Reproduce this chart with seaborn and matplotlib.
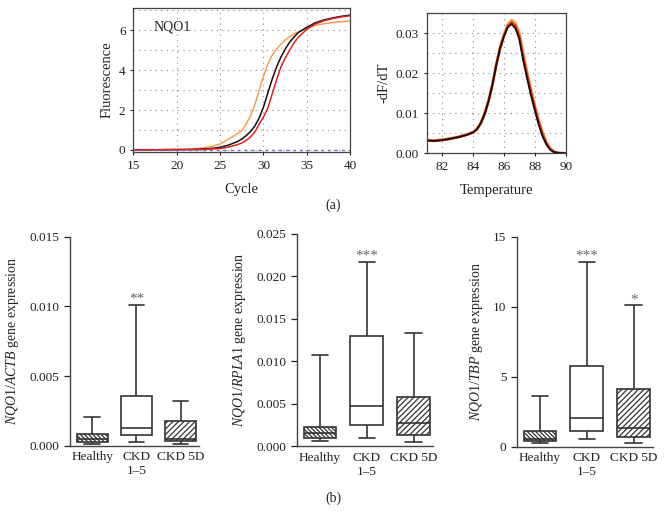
import numpy as np
import pandas as pd
import matplotlib
matplotlib.use("Agg")
import matplotlib.pyplot as plt
from matplotlib.ticker import FormatStrFormatter, MultipleLocator
import seaborn as sns

# ---------------- data ----------------
cycles = [15, 16, 17, 18, 19, 20, 21, 22, 23, 24, 25, 26, 27, 27.5, 28, 28.5, 29, 29.5,
          30, 30.5, 31, 31.5, 32, 32.5, 33, 33.5, 34, 35, 36, 37, 38, 39, 40]
amp_orange = [0.02, 0.02, 0.02, 0.02, 0.03, 0.03, 0.04, 0.06, 0.10, 0.18, 0.30, 0.55, 0.82, 0.97,
              1.30, 1.70, 2.25, 3.00, 3.70, 4.30, 4.75, 5.05, 5.30, 5.50, 5.68, 5.80, 5.92,
              6.12, 6.25, 6.33, 6.39, 6.43, 6.46]
amp_black = [0.01, 0.01, 0.01, 0.01, 0.02, 0.02, 0.02, 0.03, 0.05, 0.08, 0.13, 0.25, 0.42, 0.55,
             0.72, 0.92, 1.20, 1.60, 2.15, 2.85, 3.55, 4.15, 4.65, 5.05, 5.40, 5.65, 5.88,
             6.15, 6.38, 6.52, 6.62, 6.70, 6.76]
amp_red = [0.01, 0.01, 0.01, 0.01, 0.01, 0.02, 0.02, 0.02, 0.03, 0.05, 0.07, 0.15, 0.27, 0.35,
           0.47, 0.65, 0.90, 1.30, 1.65, 2.10, 2.80, 3.50, 4.15, 4.60, 5.00, 5.35, 5.65,
           6.05, 6.32, 6.48, 6.59, 6.67, 6.73]

temps = [81, 81.5, 82, 82.5, 83, 83.5, 84, 84.25, 84.5, 84.75, 85, 85.25, 85.5, 85.75, 86,
         86.25, 86.5, 86.75, 87, 87.25, 87.5, 87.75, 88, 88.25, 88.5, 88.75, 89, 89.25, 89.5, 90]
melt_black = [0.0032, 0.0031, 0.0033, 0.0036, 0.0040, 0.0045, 0.0052, 0.0060, 0.0075, 0.0098,
              0.0130, 0.0170, 0.0220, 0.0262, 0.0292, 0.0315, 0.0323, 0.0312, 0.0285, 0.0232,
              0.0188, 0.0145, 0.0108, 0.0072, 0.0043, 0.0022, 0.0009, 0.0003, 0.0001, 0.0000]
melt_red = [0.0032, 0.0031, 0.0033, 0.0036, 0.0040, 0.0045, 0.0052, 0.0060, 0.0075, 0.0098,
            0.0130, 0.0170, 0.0220, 0.0263, 0.0294, 0.0318, 0.0327, 0.0318, 0.0292, 0.0240,
            0.0195, 0.0152, 0.0114, 0.0077, 0.0047, 0.0025, 0.0010, 0.0003, 0.0001, 0.0000]
melt_orange = [0.0033, 0.0032, 0.0034, 0.0037, 0.0041, 0.0046, 0.0053, 0.0061, 0.0076, 0.0099,
               0.0131, 0.0171, 0.0221, 0.0265, 0.0296, 0.0322, 0.0333, 0.0325, 0.0300, 0.0250,
               0.0203, 0.0160, 0.0120, 0.0083, 0.0052, 0.0028, 0.0012, 0.0004, 0.0001, 0.0000]

groups = ["Healthy", "CKD\n1\u20135", "CKD 5D"]
# five-number summaries per group: [min, q1, median, q3, max]
actb_healthy = [0.00010, 0.00027, 0.00045, 0.00082, 0.00208]
actb_ckd = [0.00027, 0.00077, 0.00129, 0.00359, 0.01010]
actb_5d = [0.00012, 0.00036, 0.00045, 0.00180, 0.00323]
rpla_healthy = [0.00066, 0.00098, 0.00153, 0.00231, 0.01075]
rpla_ckd = [0.00094, 0.00247, 0.00475, 0.01303, 0.02174]
rpla_5d = [0.00047, 0.00130, 0.00271, 0.00584, 0.01338]
tbp_healthy = [0.30, 0.38, 0.55, 1.14, 3.62]
tbp_ckd = [0.53, 1.14, 2.07, 5.76, 13.20]
tbp_5d = [0.29, 0.71, 1.31, 4.10, 10.10]

# ---------------- style ----------------
sns.set_style("white")
plt.rcParams["font.family"] = ["Liberation Serif", "DejaVu Serif"]
plt.rcParams["mathtext.fontset"] = "custom"
plt.rcParams["mathtext.rm"] = "Liberation Serif"
plt.rcParams["mathtext.it"] = "Liberation Serif:italic"
plt.rcParams["hatch.linewidth"] = 0.9
plt.rcParams["hatch.color"] = "#333333"
TXT = "#222222"
SP = "#444444"

fig = plt.figure(figsize=(6.66, 5.25), dpi=100)

# ---------------- (a) amplification ----------------
ax1 = fig.add_axes([0.200, 0.7105, 0.326, 0.2737])
sns.lineplot(x=cycles, y=amp_orange, ax=ax1, color="#F5A050", lw=1.1)
sns.lineplot(x=cycles, y=amp_black, ax=ax1, color="#111111", lw=1.1)
sns.lineplot(x=cycles, y=amp_red, ax=ax1, color="#E82020", lw=1.1)
ax1.axhline(0, color="#6A6AD8", ls=(0, (2, 3)), lw=1.0)
ax1.set_xlim(15, 40)
ax1.set_ylim(-0.1, 7.1)
ax1.set_xticks([15, 20, 25, 30, 35, 40])
ax1.set_yticks([0, 2, 4, 6])
ax1.yaxis.set_minor_locator(MultipleLocator(1))
ax1.grid(True, which="both", axis="y", color="#888888", ls=(0, (1, 4)), lw=0.8)
ax1.grid(True, which="major", axis="x", color="#888888", ls=(0, (1, 4)), lw=0.8)
ax1.tick_params(which="minor", length=0)
ax1.set_xlabel("Cycle", fontsize=10.5, color=TXT, labelpad=8)
ax1.set_ylabel("Fluorescence", fontsize=10.5, color=TXT, labelpad=4)
ax1.text(17.3, 6.15, "NQO1", fontsize=10, va="center", ha="left", color=TXT)

# ---------------- (a) melt curve ----------------
ax2 = fig.add_axes([0.6407, 0.708, 0.2087, 0.2667])
sns.lineplot(x=temps, y=melt_orange, ax=ax2, color="#F5A050", lw=2.0)
sns.lineplot(x=temps, y=melt_red, ax=ax2, color="#E03010", lw=1.8)
sns.lineplot(x=temps, y=melt_black, ax=ax2, color="#1A0A0A", lw=1.3)
ax2.set_xlim(81, 90)
ax2.set_ylim(0, 0.035)
ax2.set_xticks([82, 84, 86, 88, 90])
ax2.set_yticks([0, 0.01, 0.02, 0.03])
ax2.yaxis.set_major_formatter(FormatStrFormatter("%.2f"))
ax2.yaxis.set_minor_locator(MultipleLocator(0.005))
ax2.grid(True, which="both", axis="y", color="#888888", ls=(0, (1, 4)), lw=0.8)
ax2.grid(True, which="major", axis="x", color="#888888", ls=(0, (1, 4)), lw=0.8)
ax2.tick_params(which="minor", length=0)
ax2.set_xlabel("Temperature", fontsize=10.5, color=TXT, labelpad=8)
ax2.set_ylabel("-dF/dT", fontsize=10.5, color=TXT, labelpad=4)

for ax in (ax1, ax2):
    for s in ax.spines.values():
        s.set_visible(True)
        s.set_color(SP)
        s.set_linewidth(0.9)
    ax.tick_params(which="major", labelsize=9.5, colors=TXT, length=2, width=0.8,
                   direction="out", bottom=True, left=True)

fig.text(0.5, 1 - 205 / 525, "(a)", ha="center", va="center", fontsize=10, color=TXT)
fig.text(0.5, 1 - 498 / 525, "(b)", ha="center", va="center", fontsize=10, color=TXT)

# ---------------- (b) box plots ----------------
panels = [
    ([0.1051, 0.151, 0.1941, 0.398], [actb_healthy, actb_ckd, actb_5d], 0.015, 0.005, "%.3f",
     r"$\mathit{NQO1/ACTB}$ gene expression", {1: "**"}),
    ([0.4455, 0.1499, 0.205, 0.4044], [rpla_healthy, rpla_ckd, rpla_5d], 0.025, 0.005, "%.3f",
     r"$\mathit{NQO1/RPLA1}$ gene expression", {1: "***"}),
    ([0.7758, 0.149, 0.205, 0.400], [tbp_healthy, tbp_ckd, tbp_5d], 15, 5, "%d",
     r"$\mathit{NQO1/TBP}$ gene expression", {1: "***", 2: "*"}),
]
hatches = ["\\" * 8, None, "/" * 6]

for rect, vals, ymax, ystep, fmt, ylab, stars in panels:
    ax = fig.add_axes(rect)
    df = pd.DataFrame({
        "group": np.repeat(groups, 5),
        "value": np.concatenate([np.asarray(v, dtype=float) for v in vals]),
    })
    sns.boxplot(data=df, x="group", y="value", order=groups, ax=ax, whis=(0, 100),
                width=0.7, color="white", linecolor="#333333", linewidth=1.2,
                fliersize=0, saturation=1)
    for patch, h in zip(ax.patches, hatches):
        patch.set_facecolor("white")
        if h:
            patch.set_hatch(h)
    ax.set_xlim(-0.5, 2.42)
    ax.set_ylim(0, ymax)
    ax.set_yticks(np.arange(0, ymax + ystep / 2, ystep))
    ax.yaxis.set_major_formatter(FormatStrFormatter(fmt))
    sns.despine(ax=ax)
    for s in ("left", "bottom"):
        ax.spines[s].set_color(SP)
        ax.spines[s].set_linewidth(1.0)
    ax.tick_params(axis="y", labelsize=9.5, colors=TXT, length=4, width=0.9,
                   direction="out", left=True)
    ax.tick_params(axis="x", labelsize=9.5, colors=TXT, length=0, pad=4)
    ax.set_xlabel("")
    ax.set_ylabel(ylab, fontsize=10, color=TXT, labelpad=6)
    for i, s in stars.items():
        ax.annotate(s, xy=(i, vals[i][-1]), xytext=(0, 1.5), textcoords="offset points",
                    ha="center", va="baseline", fontsize=11, color="#666666")

fig.savefig("out.png", dpi=100)
